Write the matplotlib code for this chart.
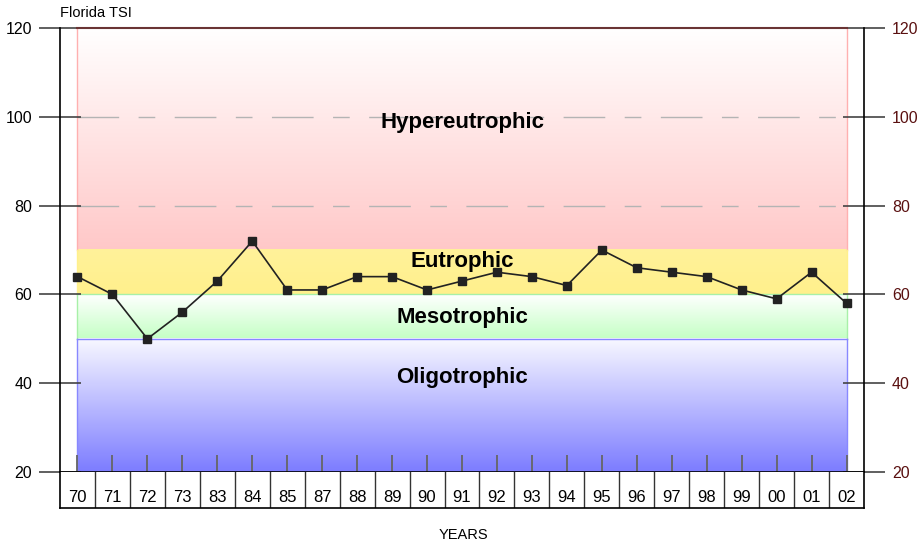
import numpy as np
import matplotlib.pyplot as plt
from matplotlib.colors import LinearSegmentedColormap

plt.rcParams['font.family'] = ['Liberation Sans', 'DejaVu Sans']

# ---------------- Data ----------------
years = ["70", "71", "72", "73", "83", "84", "85", "87", "88", "89", "90", "91",
         "92", "93", "94", "95", "96", "97", "98", "99", "00", "01", "02"]
tsi = [64, 60, 50, 56, 63, 72, 61, 61, 64, 64, 61, 63,
       65, 64, 62, 70, 66, 65, 64, 61, 59, 65, 58]

# trophic bands: (name, low, high, top colour, bottom colour, edge colour, label y)
bands = [
    ("Hypereutrophic", 70, 120, "#ffffff", "#ffc8c8", "#ffb0b0", 98.8),
    ("Eutrophic", 60, 70, "#fff29a", "#fff08c", "#fff08c", 67.3),
    ("Mesotrophic", 50, 60, "#ffffff", "#c4ffc4", "#a8f0a8", 54.7),
    ("Oligotrophic", 20, 50, "#f8f8ff", "#7c7cff", "#8888ff", 41.2),
]

x = np.arange(len(years))
n = len(years)

# ---------------- Figure ----------------
fig = plt.figure(figsize=(9.19, 5.46), dpi=100)
ax = fig.add_axes([60 / 919, 1 - 472 / 546, 804 / 919, 444 / 546])
ax.set_xlim(-0.5, n - 0.5)
ax.set_ylim(20, 120)

for name, lo, hi, ctop, cbot, cedge, ly in bands:
    cmap = LinearSegmentedColormap.from_list(name, [cbot, ctop])
    grad = np.linspace(0, 1, 256).reshape(-1, 1)
    ax.imshow(grad, cmap=cmap, origin="lower", aspect="auto",
              extent=(0, n - 1, lo, hi), zorder=0)
    ax.plot([0, 0], [lo, hi], color=cedge, lw=1, zorder=1)
    ax.plot([n - 1, n - 1], [lo, hi], color=cedge, lw=1, zorder=1)
    ax.text((n - 1) / 2, ly, name, ha="center", va="center",
            fontsize=16, fontweight="bold", zorder=4)

ax.plot([0, n - 1], [60, 60], color="#a8f0a8", lw=1, zorder=1)
ax.plot([0, n - 1], [50, 50], color="#8888ff", lw=1, zorder=1)
ax.plot([0, n - 1], [120, 120], color="#6a3434", lw=1.5, zorder=2, clip_on=False)

# faint dashed guide lines
for gy in (80, 100):
    ax.plot([0, n - 1], [gy, gy], color="#b4b4b4", lw=1,
            dashes=(30, 14, 12, 14), zorder=1)

ax.plot(x, tsi, color="#222222", lw=1.2, marker="s", markersize=5.5,
        markerfacecolor="#222222", zorder=3)

ax.spines["top"].set_visible(False)
for s in ("left", "right", "bottom"):
    ax.spines[s].set_linewidth(1.2)

ax.set_yticks(range(20, 121, 20))
ax.tick_params(axis="y", direction="inout", length=30, width=1.2, color="#444444",
               labelsize=11.5, pad=5, left=True, right=True,
               labelleft=True, labelright=True)
for t in ax.yaxis.get_major_ticks():
    t.label2.set_color("#5a1010")

ax.set_xticks(x)
ax.set_xticklabels([])
ax.tick_params(axis="x", direction="inout", length=24, width=1.3, color="#666666")

# year table below the axis
tab = fig.add_axes([60 / 919, 1 - 508 / 546, 804 / 919, 36 / 546])
tab.set_xlim(-0.5, n - 0.5)
tab.set_ylim(0, 1)
tab.set_xticks([])
tab.set_yticks([])
tab.spines["top"].set_visible(False)
for s in ("left", "right", "bottom"):
    tab.spines[s].set_linewidth(1.2)
for i in range(n - 1):
    tab.axvline(i + 0.5, color="#333333", lw=1)
for i, lab in enumerate(years):
    tab.text(i, 0.3, lab, ha="center", va="center", fontsize=12)

fig.text(60 / 919, 1 - 13 / 546, "Florida TSI", ha="left", va="center", fontsize=10.5)
fig.text(463 / 919, 1 - 535 / 546, "YEARS", ha="center", va="center", fontsize=10.5)

fig.savefig("out.png", dpi=100)
